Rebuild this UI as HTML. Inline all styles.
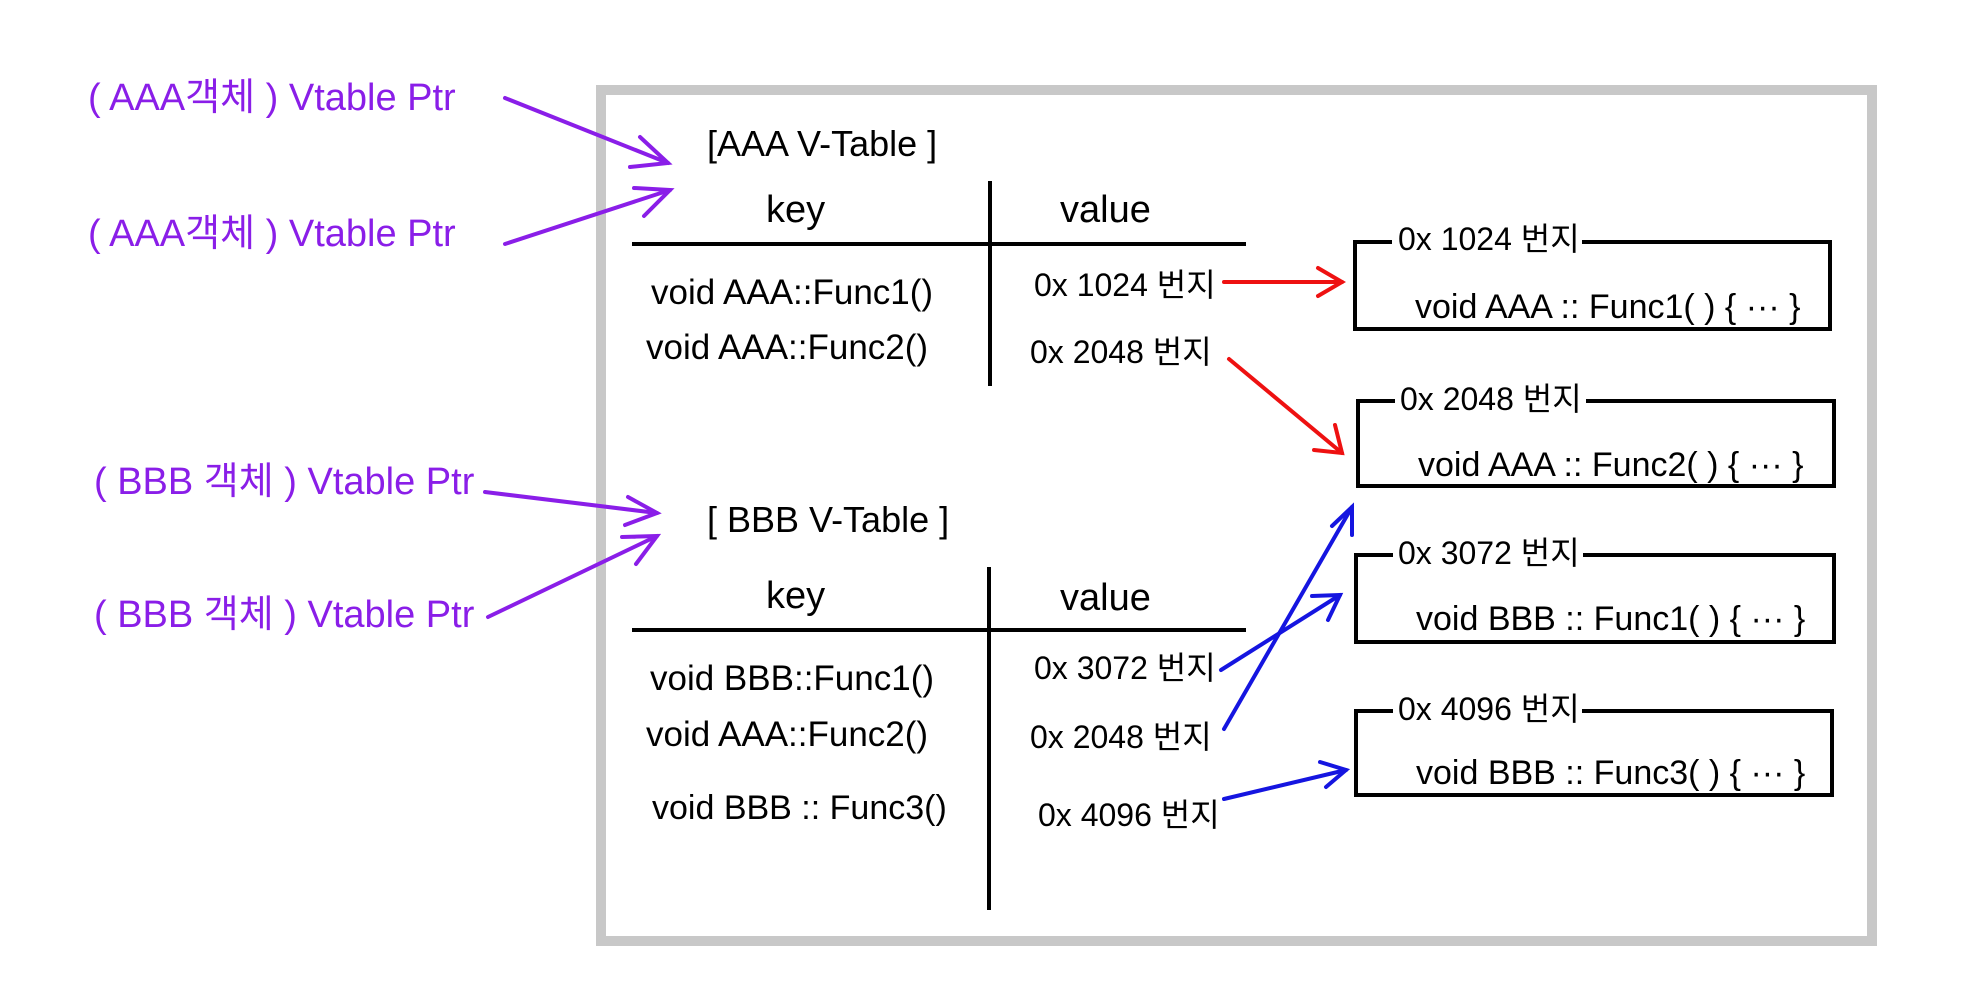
<!DOCTYPE html>
<html><head><meta charset="utf-8"><style>
html,body{margin:0;padding:0;background:#fff;}
svg{display:block;}
text{font-family:"Liberation Sans","Noto Sans CJK KR","NanumGothic",sans-serif;}
</style></head><body>
<svg width="1963" height="1000" viewBox="0 0 1963 1000" xmlns="http://www.w3.org/2000/svg">
<rect x="601" y="90" width="1271" height="851" fill="none" stroke="#c8c8c8" stroke-width="10"/>

<g fill="#8a1ee8" font-size="38">
<text x="88" y="110">( AAA객체 ) Vtable Ptr</text>
<text x="88" y="246">( AAA객체 ) Vtable Ptr</text>
<text x="94" y="494">( BBB 객체 ) Vtable Ptr</text>
<text x="94" y="627">( BBB 객체 ) Vtable Ptr</text>
</g>
<g stroke="#8a1ee8" stroke-width="4" fill="none" stroke-linecap="round">
<line x1="505" y1="98" x2="668" y2="163"/><path d="M640,137 L668,163 L630,167"/>
<line x1="505" y1="244" x2="670" y2="190"/><path d="M634,188 L670,190 L644,216"/>
<line x1="485" y1="492" x2="657" y2="513"/><path d="M628,497 L657,513 L625,525"/>
<line x1="488" y1="617" x2="657" y2="536"/><path d="M622,537 L657,536 L636,564"/>
</g>

<g fill="#000">
<text x="707" y="156" font-size="36">[AAA V-Table ]</text>
<text x="766" y="222" font-size="38">key</text>
<text x="1060" y="222" font-size="38">value</text>
<text x="651" y="304" font-size="35">void AAA::Func1()</text>
<text x="646" y="359" font-size="35">void AAA::Func2()</text>
<text x="1034" y="296" font-size="32">0x 1024 번지</text>
<text x="1030" y="363" font-size="32">0x 2048 번지</text>
</g>
<g stroke="#000" stroke-width="4">
<line x1="632" y1="244" x2="1246" y2="244"/>
<line x1="990" y1="181" x2="990" y2="386"/>
</g>

<g fill="#000">
<text x="707" y="532" font-size="36">[ BBB V-Table ]</text>
<text x="766" y="608" font-size="38">key</text>
<text x="1060" y="610" font-size="38">value</text>
<text x="650" y="690" font-size="35">void BBB::Func1()</text>
<text x="646" y="746" font-size="35">void AAA::Func2()</text>
<text x="652" y="819" font-size="34">void BBB :: Func3()</text>
<text x="1034" y="679" font-size="32">0x 3072 번지</text>
<text x="1030" y="748" font-size="32">0x 2048 번지</text>
<text x="1038" y="826" font-size="32">0x 4096 번지</text>
</g>
<g stroke="#000" stroke-width="4">
<line x1="632" y1="630" x2="1246" y2="630"/>
<line x1="989" y1="567" x2="989" y2="910"/>
</g>

<g stroke="#000" stroke-width="4" fill="none">
<path d="M1392,242 L1355,242 L1355,329 L1830,329 L1830,242 L1582,242"/>
<path d="M1395,401 L1358,401 L1358,486 L1834,486 L1834,401 L1586,401"/>
<path d="M1393,555 L1356,555 L1356,642 L1834,642 L1834,555 L1583,555"/>
<path d="M1393,711 L1356,711 L1356,795 L1832,795 L1832,711 L1582,711"/>
</g>
<g fill="#000" font-size="32">
<text x="1398" y="250">0x 1024 번지</text>
<text x="1400" y="410">0x 2048 번지</text>
<text x="1398" y="564">0x 3072 번지</text>
<text x="1398" y="720">0x 4096 번지</text>
</g>
<g fill="#000" font-size="34">
<text x="1415" y="318">void AAA :: Func1( ) { ··· }</text>
<text x="1418" y="476">void AAA :: Func2( ) { ··· }</text>
<text x="1416" y="630">void BBB :: Func1( ) { ··· }</text>
<text x="1416" y="784">void BBB :: Func3( ) { ··· }</text>
</g>

<g stroke="#ee1111" stroke-width="4" fill="none" stroke-linecap="round">
<line x1="1224" y1="282" x2="1342" y2="282"/><path d="M1318,268 L1342,282 L1318,296"/>
<line x1="1229" y1="359" x2="1342" y2="453"/><path d="M1335,425 L1342,453 L1314,450"/>
</g>
<g stroke="#1515e0" stroke-width="4" fill="none" stroke-linecap="round">
<line x1="1221" y1="670" x2="1340" y2="595"/><path d="M1312,596 L1340,595 L1328,620"/>
<line x1="1224" y1="729" x2="1352" y2="507"/><path d="M1332,526 L1352,507 L1352,535"/>
<line x1="1224" y1="799" x2="1346" y2="770"/><path d="M1320,762 L1346,770 L1326,787"/>
</g>
</svg>
</body></html>
